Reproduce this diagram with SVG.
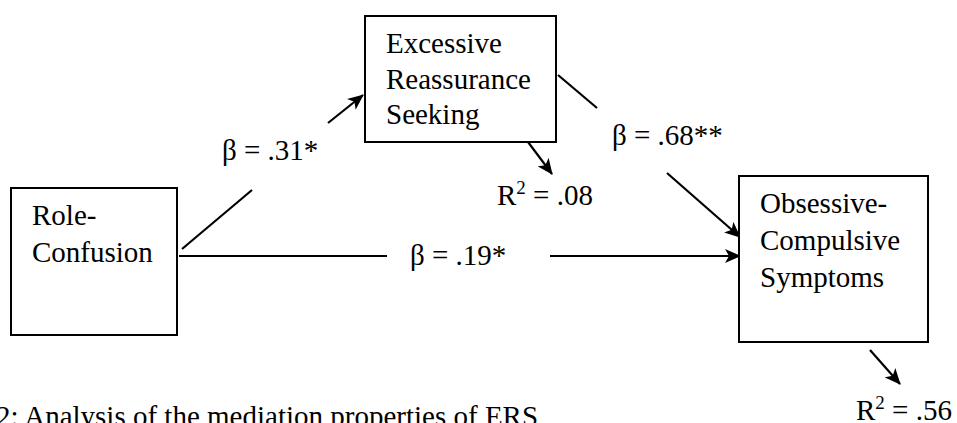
<svg xmlns="http://www.w3.org/2000/svg" width="957" height="423" viewBox="0 0 957 423">
<style>
  .box { fill: #ffffff; stroke: #000000; stroke-width: 2; }
  .t { font-family: "Liberation Serif", "Times New Roman", serif; font-size: 29px; fill: #000000; }
  .ln { stroke: #000000; stroke-width: 2.2; fill: none; }
  .arr { marker-end: url(#ah); }
</style>
<defs>
  <marker id="ah" markerUnits="userSpaceOnUse" markerWidth="16" markerHeight="14" viewBox="0 0 16 14" refX="15" refY="7" orient="auto">
    <path d="M0,0 L16,7 L0,14 L4,7 z" fill="#000000"/>
  </marker>
</defs>
<rect width="957" height="423" fill="#ffffff"/>

<g id="connectors">
  <line class="ln" x1="182" y1="249" x2="252" y2="190"/>
  <line class="ln arr" x1="328" y1="123" x2="363" y2="95"/>
  <line class="ln" x1="558" y1="75" x2="597" y2="108"/>
  <line class="ln arr" x1="667" y1="173" x2="740" y2="237"/>
  <line class="ln" x1="179" y1="256" x2="387" y2="256"/>
  <line class="ln arr" x1="550" y1="256" x2="740" y2="256"/>
  <line class="ln arr" x1="528" y1="142" x2="552" y2="174"/>
  <line class="ln arr" x1="870" y1="350" x2="900" y2="384"/>
  <text class="t" x="222" y="160">β = .31*</text>
  <text class="t" x="612" y="145">β = .68**</text>
  <text class="t" x="410" y="265">β = .19*</text>
  <text class="t" x="497" y="205">R<tspan font-size="19" dy="-11">2</tspan><tspan dy="11"> = .08</tspan></text>
  <text class="t" x="856" y="420">R<tspan font-size="19" dy="-11">2</tspan><tspan dy="11"> = .56</tspan></text>
</g>

<g id="node-role">
  <rect class="box" x="11" y="188" width="166" height="147"/>
  <text class="t" x="32" y="225">Role-</text>
  <text class="t" x="32" y="262">Confusion</text>
</g>

<g id="node-ers">
  <rect class="box" x="365" y="16" width="191" height="126"/>
  <text class="t" x="386" y="53">Excessive</text>
  <text class="t" x="386" y="89">Reassurance</text>
  <text class="t" x="386" y="124">Seeking</text>
</g>

<g id="node-ocs">
  <rect class="box" x="739" y="176" width="189" height="166"/>
  <text class="t" x="760" y="213">Obsessive-</text>
  <text class="t" x="760" y="250">Compulsive</text>
  <text class="t" x="760" y="287">Symptoms</text>
</g>

<text class="t" x="-4" y="426">2: Analysis of the mediation properties of ERS</text>
</svg>
